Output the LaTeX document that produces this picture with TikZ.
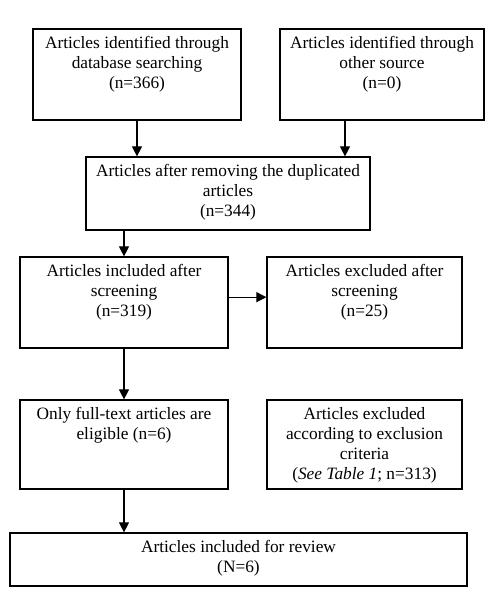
\documentclass[tikz,border=0pt]{standalone}
\usepackage{fontspec}
\setmainfont{Liberation Serif}
\usetikzlibrary{arrows.meta}
\begin{document}
\begin{tikzpicture}[x=0.75pt,y=-0.75pt,
  box/.style={draw, line width=0.9pt, inner sep=0pt},
  txt/.style={anchor=north, align=center, inner sep=0pt, yshift=-6pt,
    font=\fontsize{13}{15}\selectfont},
  arr/.style={line width=0.8pt, -{Triangle[length=7.5pt,width=7.5pt]}}]
\useasboundingbox (0,0) rectangle (500,593);
\node[box, minimum width=156pt, minimum height=68.25pt,
  label={[txt]north:Articles identified through\\database searching\\(n=366)}] (a) at (137,74.5) {};
\node[box, minimum width=153pt, minimum height=68.25pt,
  label={[txt]north:Articles identified through\\other source\\(n=0)}] (b) at (382,74.5) {};
\node[box, minimum width=213pt, minimum height=54.75pt,
  label={[txt]north:Articles after removing the duplicated\\articles\\(n=344)}] (c) at (228,193.5) {};
\node[box, minimum width=156pt, minimum height=68.25pt,
  label={[txt]north:Articles included after\\screening\\(n=319)}] (d) at (124,302.5) {};
\node[box, minimum width=146.25pt, minimum height=68.25pt,
  label={[txt]north:Articles excluded after\\screening\\(n=25)}] (e) at (364.5,302.5) {};
\node[box, minimum width=156pt, minimum height=66.75pt,
  label={[txt]north:Only full-text articles are\\eligible (n=6)}] (f) at (124,444.5) {};
\node[box, minimum width=146.25pt, minimum height=66.75pt,
  label={[txt]north:Articles excluded\\according to exclusion\\criteria\\(\textit{See Table 1}; n=313)}] (g) at (364.5,444.5) {};
\node[box, minimum width=342.75pt, minimum height=39.75pt,
  label={[txt]north:Articles included for review\\(N=6)}] (h) at (238.5,559.5) {};
\draw[arr] (a.south) -- (a.south |- c.north);
\draw[arr] ([xshift=-27.75pt]b.south) -- ([xshift=-27.75pt]b.south |- c.north);
\draw[arr] (c.south -| d.north) -- (d.north);
\draw[arr] ([yshift=4pt]d.east) -- ([yshift=4pt]d.east -| e.west);
\draw[arr] (d.south) -- (f.north);
\draw[arr] (f.south) -- (f.south |- h.north);
\end{tikzpicture}
\end{document}
